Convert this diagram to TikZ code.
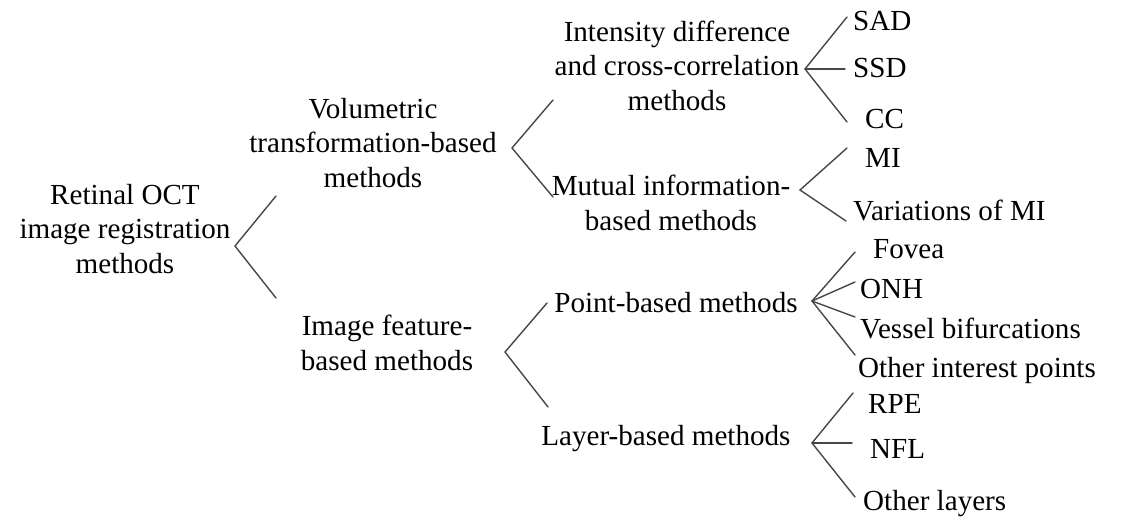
\documentclass[tikz,border=0pt]{standalone}
\usepackage{fontspec}
\setmainfont{Liberation Serif}
\begin{document}
\begin{tikzpicture}[x=1pt,y=-1pt,
  lbl/.style={inner sep=0pt, anchor=base, align=center,
    font=\fontsize{29.1}{34.5}\selectfont},
  leaf/.style={inner sep=0pt, anchor=base west,
    font=\fontsize{29.1}{34.5}\selectfont},
  branch/.style={draw=black!72, line width=1.4pt, line cap=round, line join=miter}]
\useasboundingbox (0,0) rectangle (1132,522);

% level 0 and level 1 (positions give the baseline of the last line)
\node[lbl] (root) at (125,273) {Retinal OCT\\image registration\\methods};
\node[lbl] (vol)  at (373,187) {Volumetric\\transformation-based\\methods};
\node[lbl] (feat) at (387,370) {Image feature-\\based methods};

% level 2
\node[lbl] (inten)  at (677,110) {Intensity difference\\and cross-correlation\\methods};
\node[lbl] (mutual) at (671,230) {Mutual information-\\based methods};
\node[lbl] (point)  at (676,312) {Point-based methods};
\node[lbl] (layer)  at (666,445) {Layer-based methods};

% leaves
\node[leaf] (sad)   at (853,30)  {SAD};
\node[leaf] (ssd)   at (853,77)  {SSD};
\node[leaf] (cc)    at (865,128) {CC};
\node[leaf] (mi)    at (865,167) {MI};
\node[leaf] (vmi)   at (853,220) {Variations of MI};
\node[leaf] (fovea) at (873,258) {Fovea};
\node[leaf] (onh)   at (860,298) {ONH};
\node[leaf] (vbif)  at (860,338) {Vessel bifurcations};
\node[leaf] (oip)   at (858,377) {Other interest points};
\node[leaf] (rpe)   at (868,413) {RPE};
\node[leaf] (nfl)   at (870,458) {NFL};
\node[leaf] (olay)  at (863,510) {Other layers};

% bracket apices and branch ends
\coordinate (root-a) at (235,246);
\coordinate (root-u) at (276,196);
\coordinate (root-d) at (276,298);

\coordinate (vol-a) at (512,148);
\coordinate (vol-u) at (553,100);
\coordinate (vol-d) at (553,197);

\coordinate (feat-a) at (505,352);
\coordinate (feat-u) at (547,303);
\coordinate (feat-d) at (548,407);

\coordinate (inten-a) at (805,69);
\coordinate (inten-1) at (847,17);
\coordinate (inten-2) at (845,69);
\coordinate (inten-3) at (847,122);

\coordinate (mutual-a) at (800,190);
\coordinate (mutual-1) at (847,148);
\coordinate (mutual-2) at (846,221);

\coordinate (point-a) at (812,301);
\coordinate (point-1) at (855,252);
\coordinate (point-2) at (855,282);
\coordinate (point-3) at (855,317);
\coordinate (point-4) at (855,355);

\coordinate (layer-a) at (812,443);
\coordinate (layer-1) at (853,393);
\coordinate (layer-2) at (852,443);
\coordinate (layer-3) at (855,497);

% brackets
\draw[branch] (root-u) -- (root-a) -- (root-d);
\draw[branch] (vol-u) -- (vol-a) -- (vol-d);
\draw[branch] (feat-u) -- (feat-a) -- (feat-d);
\draw[branch] (inten-1) -- (inten-a) -- (inten-3);
\draw[branch] (inten-a) -- (inten-2);
\draw[branch] (mutual-1) -- (mutual-a) -- (mutual-2);
\draw[branch] (point-1) -- (point-a) -- (point-4);
\draw[branch] (point-a) -- (point-2);
\draw[branch] (point-a) -- (point-3);
\draw[branch] (layer-1) -- (layer-a) -- (layer-3);
\draw[branch] (layer-a) -- (layer-2);
\end{tikzpicture}
\end{document}
